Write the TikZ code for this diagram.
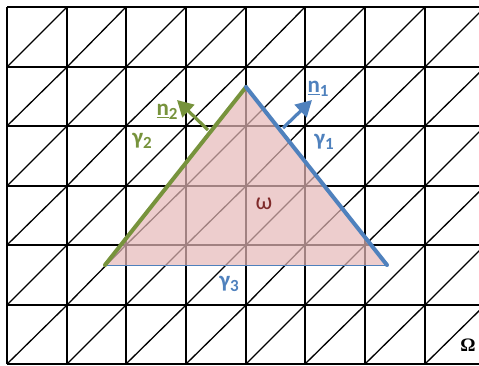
\documentclass[tikz,border=0pt]{standalone}
\usepackage{fontspec}
\usetikzlibrary{arrows.meta}
\newfontfamily\lab{Carlito}
\newfontfamily\omfont{Liberation Serif}
\definecolor{gr}{HTML}{77933C}
\definecolor{bl}{HTML}{4F81BD}
\definecolor{pk}{HTML}{E6B9B8}
\definecolor{dr}{HTML}{7F2A2A}
\newcommand{\sbs}[1]{\raisebox{-4pt}{\fontsize{17}{17}\selectfont #1}}
\tikzset{
  gridline/.style={line width=1.3pt, black},
  edgeline/.style={line width=4pt, line cap=round},
  normalarrow/.style={line width=3.2pt, -{Triangle[length=16pt,width=17pt]}},
  lbl/.style={font=\lab\bfseries\fontsize{23}{23}\selectfont, inner sep=0pt}
}
\begin{document}
\begin{tikzpicture}[x=1pt,y=-1pt]
\useasboundingbox (0,0) rectangle (479,365);
\fill[white] (0,0) rectangle (479,365);
\begin{scope}
\clip (0,0) rectangle (479,365);
\foreach \x in {7,67,126,186,246,305,365,425} \draw[gridline] (\x,7) -- (\x,364);
\foreach \y in {7,67,126,186,245,305,364} \draw[gridline] (7,\y) -- (484,\y);
\foreach \x/\xn in {7/67,67/126,126/186,186/246,246/305,305/365,365/425,425/485}
  \foreach \y/\yn in {364/305,305/245,245/186,186/126,126/67,67/7}
    \draw[gridline] (\x,\y) -- (\xn,\yn);
\end{scope}
\coordinate (A) at (105,265);
\coordinate (B) at (246,87);
\coordinate (C) at (387,265);
\fill[pk, fill opacity=0.7] (A) -- (B) -- (C) -- cycle;
\draw[bl, line width=1pt] (A) -- (C);
\draw[gr, edgeline] (A) -- (B);
\draw[bl, edgeline] (B) -- (C);
\coordinate (n2s) at (208,130);
\coordinate (n2e) at (177,100);
\coordinate (n1s) at (283,128);
\coordinate (n1e) at (312,100);
\draw[gr, normalarrow] (n2s) -- (n2e);
\draw[bl, normalarrow] (n1s) -- (n1e);
\node[lbl, text=gr] (ln2) at (167,112) {\underline{n}\sbs{2}};
\node[lbl, text=gr] (lg2) at (142,141) {γ\sbs{2}};
\node[lbl, text=bl] (ln1) at (318,89) {\underline{n}\sbs{1}};
\node[lbl, text=bl] (lg1) at (324,142) {γ\sbs{1}};
\node[lbl, text=bl] (lg3) at (229,284) {γ\sbs{3}};
\node[font=\lab\fontsize{24}{24}\selectfont, inner sep=0pt, text=dr] (lom) at (264,204) {ω};
\node[font=\omfont\bfseries\fontsize{19}{19}\selectfont, inner sep=0pt] (lOm) at (468,345) {Ω};
\end{tikzpicture}
\end{document}
